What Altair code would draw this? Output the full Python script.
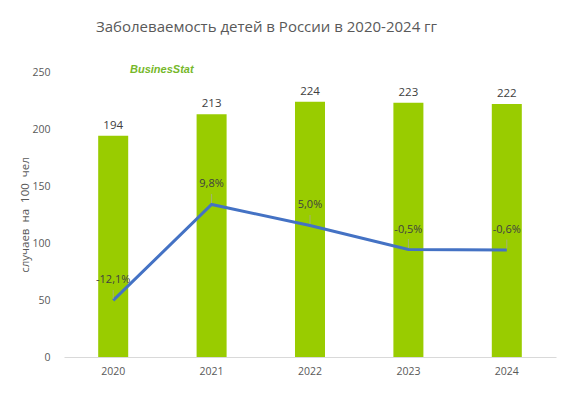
import altair as alt
import pandas as pd

years = ["2020", "2021", "2022", "2023", "2024"]
cases = [194, 213, 224, 223, 222]
growth = [-12.1, 9.8, 5.0, -0.5, -0.6]

df = pd.DataFrame({"year": years, "cases": cases, "growth": growth})
df["growth_label"] = [f"{g:.1f}".replace(".", ",") + "%" for g in growth]

FONT = "Open Sans"
GREY = "#595959"

x = alt.X(
    "year:N",
    title=None,
    scale=alt.Scale(paddingInner=0.695, paddingOuter=0.3475),
    axis=alt.Axis(labelAngle=0, ticks=False, domainColor="#d9d9d9", domainWidth=1,
                  labelColor=GREY, labelFont=FONT, labelFontSize=10.5, labelPadding=9),
)

base = alt.Chart(df)

bars = base.mark_bar(color="#99cc00").encode(
    x=x,
    y=alt.Y("cases:Q", scale=alt.Scale(domain=[0, 250]),
            axis=alt.Axis(values=[0, 50, 100, 150, 200, 250], grid=False, domain=False, ticks=False,
                          labelColor=GREY, labelFont=FONT, labelFontSize=10.5, labelPadding=14,
                          title="случаев\u00a0 на\u00a0 100\u00a0 чел", titleColor=GREY, titleFont=FONT,
                          titleFontSize=11.5, titleFontWeight="normal", titlePadding=1)),
)
bar_text = base.mark_text(dy=-7, baseline="alphabetic", font=FONT, fontSize=11.5, color="#404040").encode(
    x=x, y=alt.Y("cases:Q", scale=alt.Scale(domain=[0, 250]), axis=None), text="cases:Q"
)

ly = alt.Y("growth:Q", scale=alt.Scale(domain=[-25, 40]), axis=None)
line = base.mark_line(color="#4472C4", strokeWidth=3).encode(x=x, y=ly)
leader = base.mark_tick(orient="vertical", size=9, thickness=1, yOffset=-6, color="#a6a6a6").encode(x=x, y=ly)
line_text = base.mark_text(dy=-17, baseline="alphabetic", font=FONT, fontSize=11, color="#404040").encode(
    x=x, y=ly, text="growth_label:N"
)

logo = alt.Chart(pd.DataFrame({"t": ["BusinesStat"]})).mark_text(
    align="left", baseline="alphabetic", font="Liberation Sans", fontSize=11, fontWeight="bold",
    fontStyle="italic", color="#76b82a"
).encode(x=alt.value(66), y=alt.value(1), text="t:N")

chart = alt.layer(bars, bar_text, line, leader, line_text, logo).resolve_scale(y="independent").properties(
    width=492,
    height=285,
    autosize=alt.AutoSizeParams(type="none"),
    padding={"left": 56, "top": 64, "right": 8, "bottom": 21},
    title=alt.Title("Заболеваемость детей в России в 2020-2024 гг", anchor="start", dx=76, offset=29,
                    font=FONT, fontSize=15, fontWeight="normal", color=GREY),
).configure_view(stroke=None)

chart.save("out.html", embed_options={"renderer": "svg", "actions": False})
